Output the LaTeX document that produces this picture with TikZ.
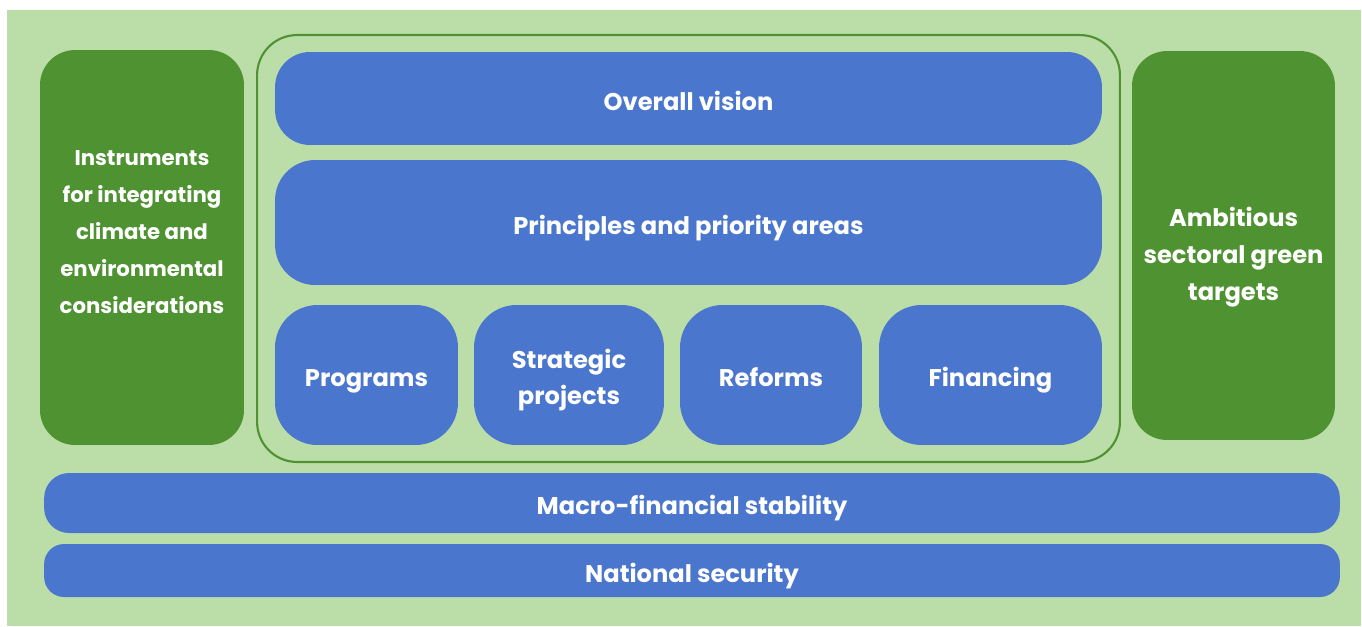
\documentclass[tikz,border=0pt]{standalone}
\usepackage{fontspec}
\setmainfont{Poppins}
\definecolor{bggreen}{HTML}{BBDDA8}
\definecolor{darkgreen}{HTML}{4E9231}
\definecolor{boxblue}{HTML}{4A76CE}

\begin{document}
\begin{tikzpicture}[
        x=0.02cm, y=-0.02cm,
        every node/.style={font=\fontsize{13.75}{21}\selectfont\bfseries, text=white, align=center},
        bluebox/.style={rectangle, fill=boxblue, inner sep=0pt, rounded corners=#1, text height=13.4pt, text depth=0pt},
        bluebox/.default=0.7cm,
        greenbox/.style={rectangle, fill=darkgreen, inner sep=0pt, rounded corners=0.7cm},
        frame/.style={rectangle, draw=darkgreen, line width=1.2pt, inner sep=0pt, rounded corners=0.8cm},
    ]

        \useasboundingbox (0,0) rectangle (1362,626);
        \fill[bggreen] (7,10) rectangle (1361,626);

        % side columns
        \node[greenbox, minimum width=4.08cm, minimum height=7.9cm] (instr) at (142,247.5) {};
        \node[font=\fontsize{12.1}{21}\selectfont\bfseries] at (142,232) {Instruments\\for integrating\\climate and\\environmental\\considerations};

        \node[greenbox, minimum width=4.06cm, minimum height=7.78cm] (targets) at (1233.5,245.5) {};
        \node at (1233.5,257.5) {Ambitious\\sectoral green\\targets};

        % strategy block
        \node[frame, minimum width=17.26cm, minimum height=8.54cm] (strategy) at (688.5,248.5) {};

        \node[bluebox, minimum width=16.54cm, minimum height=1.86cm] (vision) at (688.5,98.5) {Overall vision};
        \node[bluebox=0.8cm, minimum width=16.54cm, minimum height=2.5cm] (principles) at (688.5,222.5) {Principles and priority areas};

        \node[bluebox=0.85cm, minimum width=3.66cm, minimum height=2.8cm] (programs) at (366.5,375) {Programs};
        \node[bluebox=0.85cm, minimum width=3.8cm, minimum height=2.8cm] (projects) at (569,375) {};
        \node at (569,380) {Strategic\\projects};
        \node[bluebox=0.85cm, minimum width=3.64cm, minimum height=2.8cm] (reforms) at (771,375) {Reforms};
        \node[bluebox=0.85cm, minimum width=4.46cm, minimum height=2.8cm] (financing) at (990.5,375) {Financing};

        % foundations
        \node[bluebox=0.5cm, minimum width=25.92cm, minimum height=1.2cm] (macro) at (692,503) {Macro-financial stability};
        \node[bluebox=0.4cm, minimum width=25.92cm, minimum height=1.06cm] (security) at (692,570.5) {National security};
    \end{tikzpicture}
\end{document}
